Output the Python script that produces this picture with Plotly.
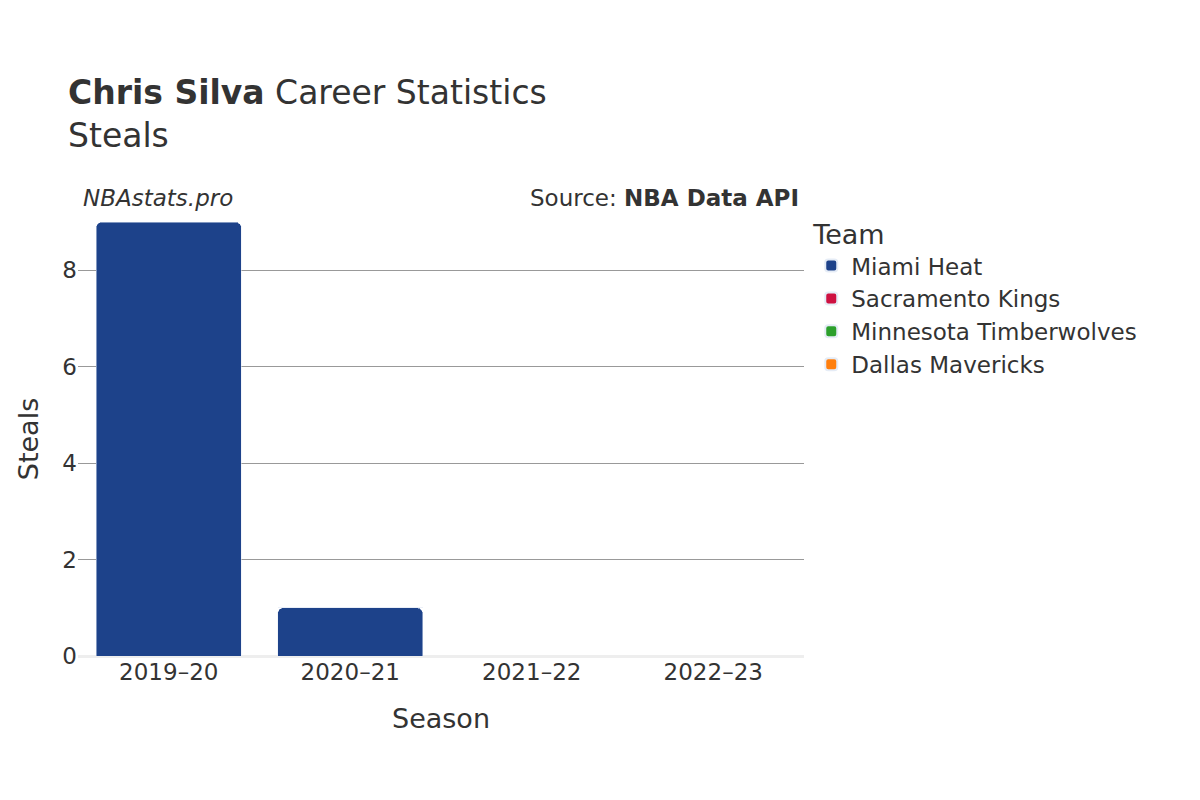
import plotly.graph_objects as go

seasons = ["2019–20", "2020–21", "2021–22", "2022–23"]
teams = ["Miami Heat", "Sacramento Kings", "Minnesota Timberwolves", "Dallas Mavericks"]
colors = ["#1d428a", "#ce1141", "#2ca02c", "#ff7f0e"]
steals = {
    "Miami Heat": [9, 1, None, None],
    "Sacramento Kings": [None, 0, None, None],
    "Minnesota Timberwolves": [None, None, 0, None],
    "Dallas Mavericks": [None, None, None, 0],
}

fig = go.Figure()
for t, c in zip(teams, colors):
    fig.add_trace(go.Bar(x=seasons, y=steals[t], name=t, marker_color=c))

fig.update_layout(
    width=1200, height=800, barmode="stack", barcornerradius=6,
    plot_bgcolor="white", paper_bgcolor="white",
    font=dict(family="DejaVu Sans", size=23, color="#333"),
    title=dict(text="<b>Chris Silva</b> Career Statistics<br>Steals", x=0.05, y=0.88,
               font=dict(size=33, color="#333")),
    margin=dict(l=70, r=404, t=214, b=152),
    xaxis=dict(title=dict(text="Season", font=dict(size=27), standoff=25), tickfont=dict(size=23)),
    yaxis=dict(title=dict(text="Steals", font=dict(size=27)), range=[0, 9], dtick=2,
               gridcolor="#999", zeroline=True, zerolinecolor="#eee", zerolinewidth=3,
               tickfont=dict(size=23)),
    legend=dict(title=dict(text="Team", font=dict(size=27)), x=1.01, y=1.03,
                traceorder="normal", font=dict(size=23), itemsizing="constant",
                tracegroupgap=8),
    bargap=0.2,
    annotations=[
        dict(text="<i>NBAstats.pro</i>", xref="paper", yref="paper", x=0.0, y=1.02,
             xanchor="left", yanchor="bottom", showarrow=False, xshift=3, font=dict(size=23)),
        dict(text="Source: <b>NBA Data API</b>", xref="paper", yref="paper", x=1.0, y=1.02,
             xanchor="right", yanchor="bottom", showarrow=False, xshift=-3, font=dict(size=23)),
    ],
)
fig.write_html("out.html")
